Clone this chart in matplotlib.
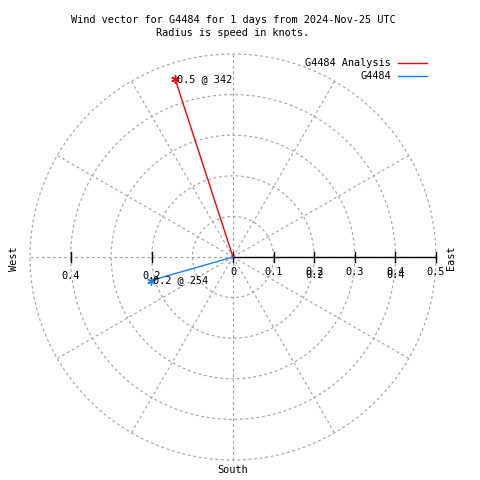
import numpy as np
import matplotlib
matplotlib.use("Agg")
import matplotlib.pyplot as plt

# wind vectors
names = ["G4484 Analysis", "G4484"]
speeds = [0.46, 0.21]          # knots
directions = [342, 254]        # degrees, clockwise from north
colors = ["#ff0000", "#1a80e6"]

rings = [0.1, 0.2, 0.3, 0.4, 0.5]
spokes = np.arange(0, 360, 30)
right_ticks = [0, 0.1, 0.2, 0.3, 0.4, 0.5]
left_ticks = [0.2, 0.4]

rmax = 0.5
scale = 406.0          # pixels per knot
cx, cy = 233, 257      # centre in pixels

plt.rcParams['font.family'] = ['DejaVu Sans Mono']
fs = 7.4

fig = plt.figure(figsize=(4.8, 4.8), dpi=100)
ax = fig.add_axes([0, 0, 1, 1])
ax.set_xlim(-cx / scale, (480 - cx) / scale)
ax.set_ylim(-(480 - cy) / scale, cy / scale)
ax.axis('off')

grid = dict(color='#a0a0a0', lw=0.8, ls=(0, (2.5, 2.5)))
t = np.linspace(0, 2 * np.pi, 400)
for r in rings:
    ax.plot(r * np.cos(t), r * np.sin(t), **grid)
for a in spokes:
    rad = np.radians(a)
    ax.plot([0, rmax * np.cos(rad)], [0, rmax * np.sin(rad)], **grid)

# axis along east with ticks
px = 1 / scale
ax.plot([0, rmax], [0, 0], color='black', lw=1)
for v in right_ticks:
    ax.plot([v, v], [-5 * px, 5 * px], color='black', lw=1)
    ax.text(v, -15 * px, f"{v:g}", fontsize=fs, ha='center', va='center')
for v in [0.2, 0.4]:
    ax.text(v, -18 * px, f"{v:g}", fontsize=fs, ha='center', va='center')
for v in left_ticks:
    ax.plot([-v, -v], [-5 * px, 5 * px], color='black', lw=1)
    ax.text(-v, -19 * px, f"{v:g}", fontsize=fs, ha='center', va='center')

# vectors
for name, s, d, c in zip(names, speeds, directions, colors):
    x = s * np.sin(np.radians(d))
    y = s * np.cos(np.radians(d))
    ax.plot([0, x], [0, y], color=c, lw=1)
    ax.plot([x], [y], marker=(6, 2, 0), color=c, ms=6, mew=1)
    ax.text(x + 2 * px, y, f"{s:.1f} @ {d}", fontsize=fs, ha='left', va='center')

# direction labels
ax.text(-219 * px, -2 * px, "West", rotation=90, fontsize=fs, ha='center', va='center')
ax.text(218 * px, -1 * px, "East", rotation=90, fontsize=fs, ha='center', va='center')
ax.text(0, -213 * px, "South", fontsize=fs, ha='center', va='center')

# legend
for i, (name, c) in enumerate(zip(names, colors)):
    yy = (cy - 63 - 13 * i) * px
    ax.text((391 - cx) * px, yy, name, fontsize=fs, ha='right', va='center')
    ax.plot([(398 - cx) * px, (427 - cx) * px], [yy, yy], color=c, lw=1)

fig.text(233 / 480, 1 - 20 / 480, "Wind vector for G4484 for 1 days from 2024-Nov-25 UTC",
         fontsize=fs, ha='center', va='center')
fig.text(233 / 480, 1 - 33 / 480, "Radius is speed in knots.",
         fontsize=fs, ha='center', va='center')

fig.savefig("out.png", dpi=100)
